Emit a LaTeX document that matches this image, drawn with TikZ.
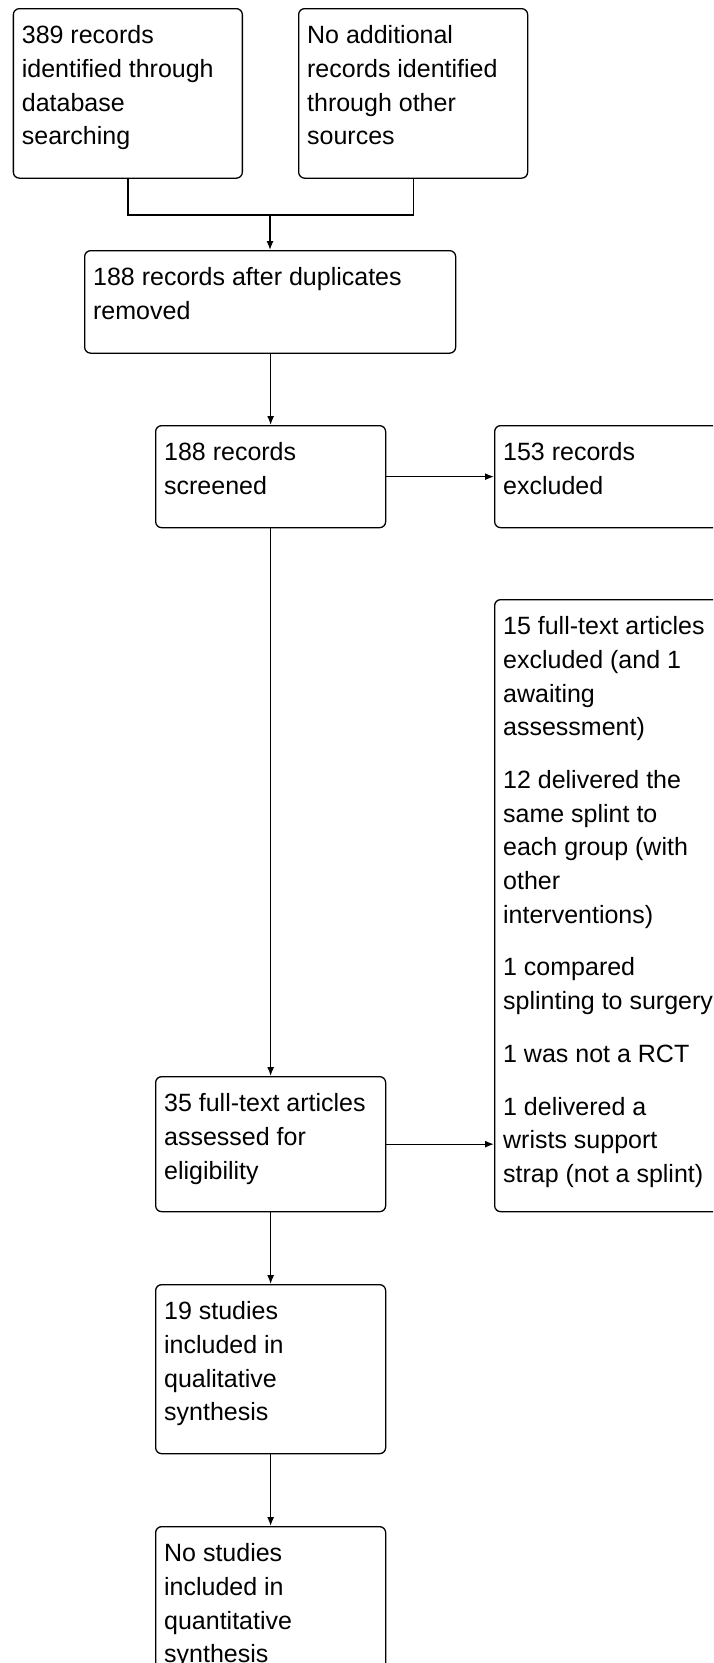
\documentclass[tikz,border=0pt]{standalone}
\usepackage{fontspec}
\setmainfont{Liberation Sans}
\usetikzlibrary{arrows.meta}
\newcommand{\bxt}[3]{\parbox[c][#2][t]{#1}{\raggedright\rule{0pt}{35pt}#3}}
\tikzset{
  box/.style={draw, line width=1.3pt, rounded corners=6pt, inner xsep=8.5pt, inner ysep=0pt, anchor=north west, align=left},
  conn/.style={line width=1.3pt},
  arr/.style={line width=1.3pt, -{Latex[length=9pt,width=7pt]}}
}
\begin{document}
\begin{tikzpicture}[x=1pt, y=-1pt, font=\fontsize{25}{33.7}\selectfont]
\useasboundingbox (0,0) rectangle (713,1663);
\clip (0,0) rectangle (713,1663);
\node[box] (b1) at (12.7,8) {\bxt{212pt}{169.5pt}{389 records\\identified through\\database\\searching}};
\node[box] (b2) at (298,8) {\bxt{212pt}{169.5pt}{No additional\\records identified\\through other\\sources}};
\node[box] (b3) at (84,250) {\bxt{354pt}{102.5pt}{188 records after duplicates\\removed}};
\node[box] (b4) at (155,425) {\bxt{213pt}{102pt}{188 records\\screened}};
\node[box] (b5) at (494,425) {\bxt{223pt}{102pt}{153 records\\excluded}};
\node[box] (big) at (494,599) {\bxt{223pt}{612pt}{15 full-text articles\\excluded (and 1\\awaiting\\assessment)\\[19pt]12 delivered the\\same splint to\\each group (with\\other\\interventions)\\[19pt]1 compared\\splinting to surgery\\[19pt]1 was not a RCT\\[19pt]1 delivered a\\wrists support\\strap (not a splint)}};
\node[box] (b35) at (155,1076) {\bxt{213pt}{135pt}{35 full-text articles\\assessed for\\eligibility}};
\node[box] (b19) at (155,1284) {\bxt{213pt}{169pt}{19 studies\\included in\\qualitative\\synthesis}};
\node[box] (bno) at (155,1526) {\bxt{213pt}{200pt}{No studies\\included in\\quantitative\\synthesis}};
\coordinate (j) at (270,215);
\draw[conn] (b1.south) |- (j) -| (b2.south);
\draw[arr] (j) -- (j |- b3.north);
\draw[arr] (b3.south -| b4.north) -- (b4.north);
\draw[arr] (b4.east) -- (b5.west);
\draw[arr] (b4.south) -- (b35.north);
\draw[arr] (b35.east) -- (b35.east -| big.west);
\draw[arr] (b35.south) -- (b19.north);
\draw[arr] (b19.south) -- (bno.north);
\end{tikzpicture}
\end{document}
